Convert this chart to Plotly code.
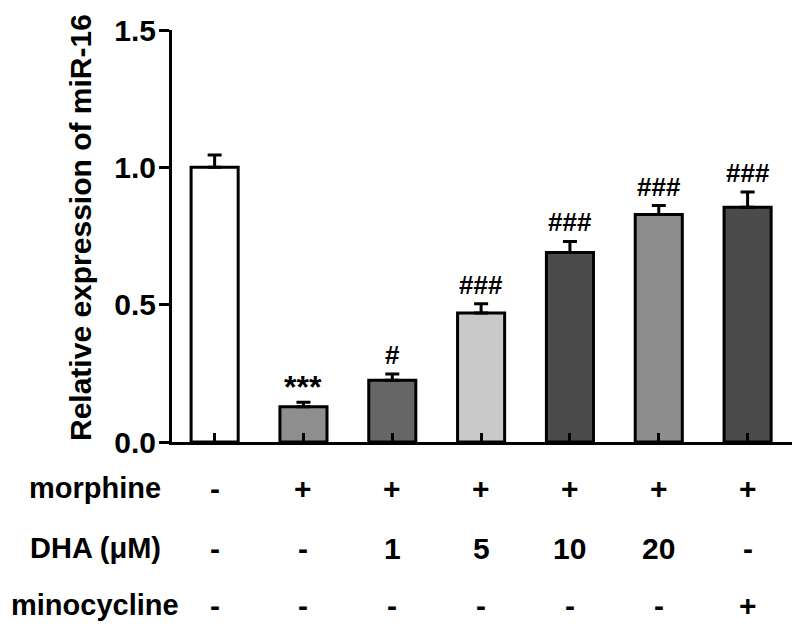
import plotly.graph_objects as go

# ---- data ----
groups = ["Control", "Morphine", "Morphine+DHA 1", "Morphine+DHA 5",
          "Morphine+DHA 10", "Morphine+DHA 20", "Morphine+Minocycline"]
values = [1.00, 0.128, 0.225, 0.470, 0.690, 0.828, 0.855]
errors = [0.045, 0.017, 0.023, 0.033, 0.040, 0.033, 0.055]
signif = ["", "***", "#", "###", "###", "###", "###"]
bar_colors = ["#ffffff", "#8e8e8e", "#666666", "#c9c9c9", "#4b4b4b", "#8d8d8d", "#4b4b4b"]

row_labels = ["morphine", "DHA (μM)", "minocycline"]
morphine = ["-", "+", "+", "+", "+", "+", "+"]
dha = ["-", "-", "1", "5", "10", "20", "-"]
minocycline = ["-", "-", "-", "-", "-", "-", "+"]
table_rows = [morphine, dha, minocycline]

y_ticks = [0.0, 0.5, 1.0, 1.5]
y_tick_text = ["0.0", "0.5", "1.0", "1.5"]

# ---- layout geometry (screen pixels; page body has an 8px margin) ----
OFF = 8
W, H = 800, 636
PLOT_X0, PLOT_X1, PLOT_Y0, PLOT_Y1 = 172, 792, 30, 442   # target screen coords
L = PLOT_X0 - OFF
R = (W + OFF) - PLOT_X1
T = PLOT_Y0 - OFF
B = (H + OFF) - PLOT_Y1

def py_to_paper(py):
    return (PLOT_Y1 - py) / (PLOT_Y1 - PLOT_Y0)

def px_to_paper(px):
    return (px - PLOT_X0) / (PLOT_X1 - PLOT_X0)

FONT = "Liberation Sans, Arial, sans-serif"
xs = list(range(len(groups)))

fig = go.Figure()
fig.add_trace(go.Bar(
    x=xs, y=values, width=0.53,
    marker=dict(color=bar_colors, line=dict(color="black", width=3)),
    error_y=dict(type="data", array=errors, arrayminus=[0] * len(errors),
                 symmetric=False, color="black", thickness=3, width=7),
    hoverinfo="skip",
))

annotations = []
# significance marks
for i, s in enumerate(signif):
    if not s:
        continue
    is_star = "*" in s
    annotations.append(dict(
        x=i, y=values[i] + errors[i], xref="x", yref="y",
        text=f"<b>{s}</b>", showarrow=False, yanchor="bottom",
        yshift=(-5 if is_star else 2),
        font=dict(family=FONT, size=(32 if is_star else 26), color="black"),
    ))

# y-axis title
annotations.append(dict(
    x=px_to_paper(80), y=py_to_paper(228), xref="paper", yref="paper",
    text="<b>Relative expression of miR-16</b>", textangle=-90,
    showarrow=False, xanchor="center", yanchor="middle",
    font=dict(family=FONT, size=30, color="black"),
))

# treatment table
row_py = [488, 548, 605]
for r, (lab, row) in enumerate(zip(row_labels, table_rows)):
    annotations.append(dict(
        x=px_to_paper(95), y=py_to_paper(row_py[r]), xref="paper", yref="paper",
        text=f"<b>{lab}</b>", showarrow=False, xanchor="center", yanchor="middle",
        font=dict(family=FONT, size=29, color="black"),
    ))
    for i, v in enumerate(row):
        annotations.append(dict(
            x=i, y=py_to_paper(row_py[r]), xref="x", yref="paper",
            text=f"<b>{v}</b>", showarrow=False, xanchor="center", yanchor="middle",
            font=dict(family=FONT, size=30, color="black"),
        ))

fig.update_layout(
    width=W, height=H,
    margin=dict(l=L, r=R, t=T, b=B, pad=0, autoexpand=False),
    paper_bgcolor="white", plot_bgcolor="white",
    showlegend=False,
    annotations=annotations,
    xaxis=dict(
        range=[-0.48, 6.5], tickvals=xs, showticklabels=False,
        showline=True, linecolor="black", linewidth=3,
        ticks="inside", ticklen=9, tickwidth=3, tickcolor="black",
        showgrid=False, zeroline=False, fixedrange=True, automargin=False,
    ),
    yaxis=dict(
        range=[0, 1.5], tickvals=y_ticks, ticktext=[f"<b>{t}</b>" for t in y_tick_text],
        showline=True, linecolor="black", linewidth=3,
        ticks="outside", ticklen=10, tickwidth=3, tickcolor="black",
        tickfont=dict(family=FONT, size=30, color="black"),
        ticklabelstandoff=-3,
        showgrid=False, zeroline=False, fixedrange=True, automargin=False,
    ),
)

fig.write_html("out.html")
